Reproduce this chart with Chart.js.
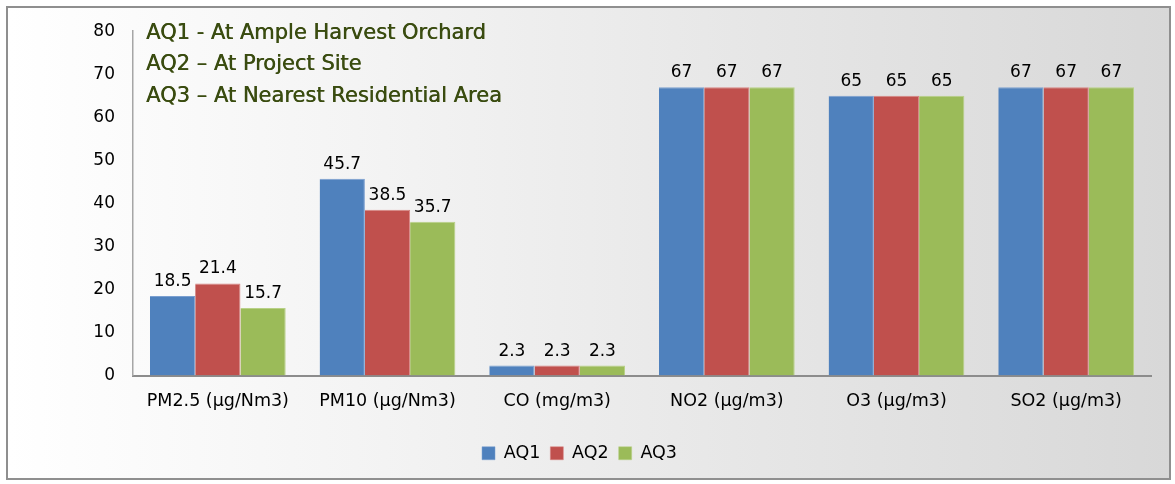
<!DOCTYPE html>
<html>
<head>
<meta charset="utf-8">
<script src="https://cdn.jsdelivr.net/npm/chart.js@4.4.1/dist/chart.umd.min.js"></script>
<style>
  html, body { margin: 0; padding: 0; background: #ffffff; width: 1175px; height: 484px; overflow: hidden; }
  #box {
    position: absolute; left: 6px; top: 6px; width: 1161px; height: 470px;
    border: 2px solid #8f8f8f; overflow: hidden;
    background: linear-gradient(to right, #ffffff 0%, #f4f4f4 30%, #e6e6e6 65%, #d8d8d8 100%);
  }
  canvas { display: block; position: absolute; left: 0; top: -5px; }
</style>
</head>
<body>
<div id="box"><canvas id="c" width="1161" height="475"></canvas></div>
<script>
const categories = ['PM2.5 (µg/Nm3)', 'PM10 (µg/Nm3)', 'CO (mg/m3)', 'NO2 (µg/m3)', 'O3 (µg/m3)', 'SO2 (µg/m3)'];
const seriesNames = ['AQ1', 'AQ2', 'AQ3'];
const aq1 = [18.5, 45.7, 2.3, 67, 65, 67];
const aq2 = [21.4, 38.5, 2.3, 67, 65, 67];
const aq3 = [15.7, 35.7, 2.3, 67, 65, 67];
const yTicks = [0, 10, 20, 30, 40, 50, 60, 70, 80];
const noteLines = ['AQ1 - At Ample Harvest Orchard', 'AQ2 – At Project Site', 'AQ3 – At Nearest Residential Area'];

const colors = ['#4F81BD', '#C0504D', '#9BBB59'];
const edges = ['#7a9fd0', '#d88583', '#b8d186'];
const FAMILY = '"DejaVu Sans", sans-serif';
const labelFont = '17px "DejaVu Sans", sans-serif';

const valueLabels = {
  id: 'valueLabels',
  afterDatasetsDraw(chart) {
    const ctx = chart.ctx;
    ctx.save();
    ctx.font = labelFont;
    ctx.fillStyle = '#000';
    ctx.textAlign = 'center';
    ctx.textBaseline = 'bottom';
    chart.data.datasets.forEach((ds, i) => {
      const meta = chart.getDatasetMeta(i);
      meta.data.forEach((el, j) => {
        ctx.fillText(String(ds.data[j]), el.x, el.y - 6);
      });
    });
    ctx.restore();
  }
};

const notes = {
  id: 'notes',
  afterDraw(chart) {
    const ctx = chart.ctx;
    const a = chart.chartArea;
    ctx.save();
    ctx.font = '21px "DejaVu Sans", sans-serif';
    ctx.fillStyle = '#3a4c10';
    ctx.textAlign = 'left';
    ctx.textBaseline = 'middle';
    noteLines.forEach((t, i) => {
      ctx.fillText(t, a.left + 13, a.top + 2 + i * 31.5);
      ctx.fillText(t, a.left + 13.5, a.top + 2 + i * 31.5);
    });
    ctx.restore();
  }
};

new Chart(document.getElementById('c'), {
  type: 'bar',
  data: {
    labels: categories,
    datasets: [aq1, aq2, aq3].map((d, i) => ({
      label: seriesNames[i],
      data: d,
      backgroundColor: colors[i],
      borderColor: edges[i],
      borderWidth: { top: 1, left: 0, right: 1, bottom: 0 },
      categoryPercentage: 0.8,
      barPercentage: 1.0
    }))
  },
  options: {
    responsive: false,
    animation: false,
    devicePixelRatio: 1,
    layout: { padding: { left: 0, right: 18, top: 13, bottom: 6 } },
    plugins: {
      legend: {
        position: 'bottom',
        labels: {
          boxWidth: 13, boxHeight: 13, padding: 10,
          color: '#000',
          font: { family: FAMILY, size: 17.5 }
        }
      },
      tooltip: { enabled: false },
      title: { display: false }
    },
    scales: {
      x: {
        grid: { display: false, drawTicks: false },
        border: { display: true, color: '#8c8c8c', width: 2 },
        ticks: { color: '#000', padding: 15, font: { family: FAMILY, size: 17.5 } },
        afterFit(s) { s.height = 59; }
      },
      y: {
        min: 0, max: 80,
        afterBuildTicks(s) { s.ticks = yTicks.map(v => ({ value: v })); },
        grid: { display: false, drawTicks: false },
        border: { display: true, color: '#a6a6a6', width: 1.5 },
        ticks: { color: '#000', padding: 18, font: { family: FAMILY, size: 17 } },
        afterFit(s) { s.width = 125; }
      }
    }
  },
  plugins: [valueLabels, notes]
});
</script>
</body>
</html>
